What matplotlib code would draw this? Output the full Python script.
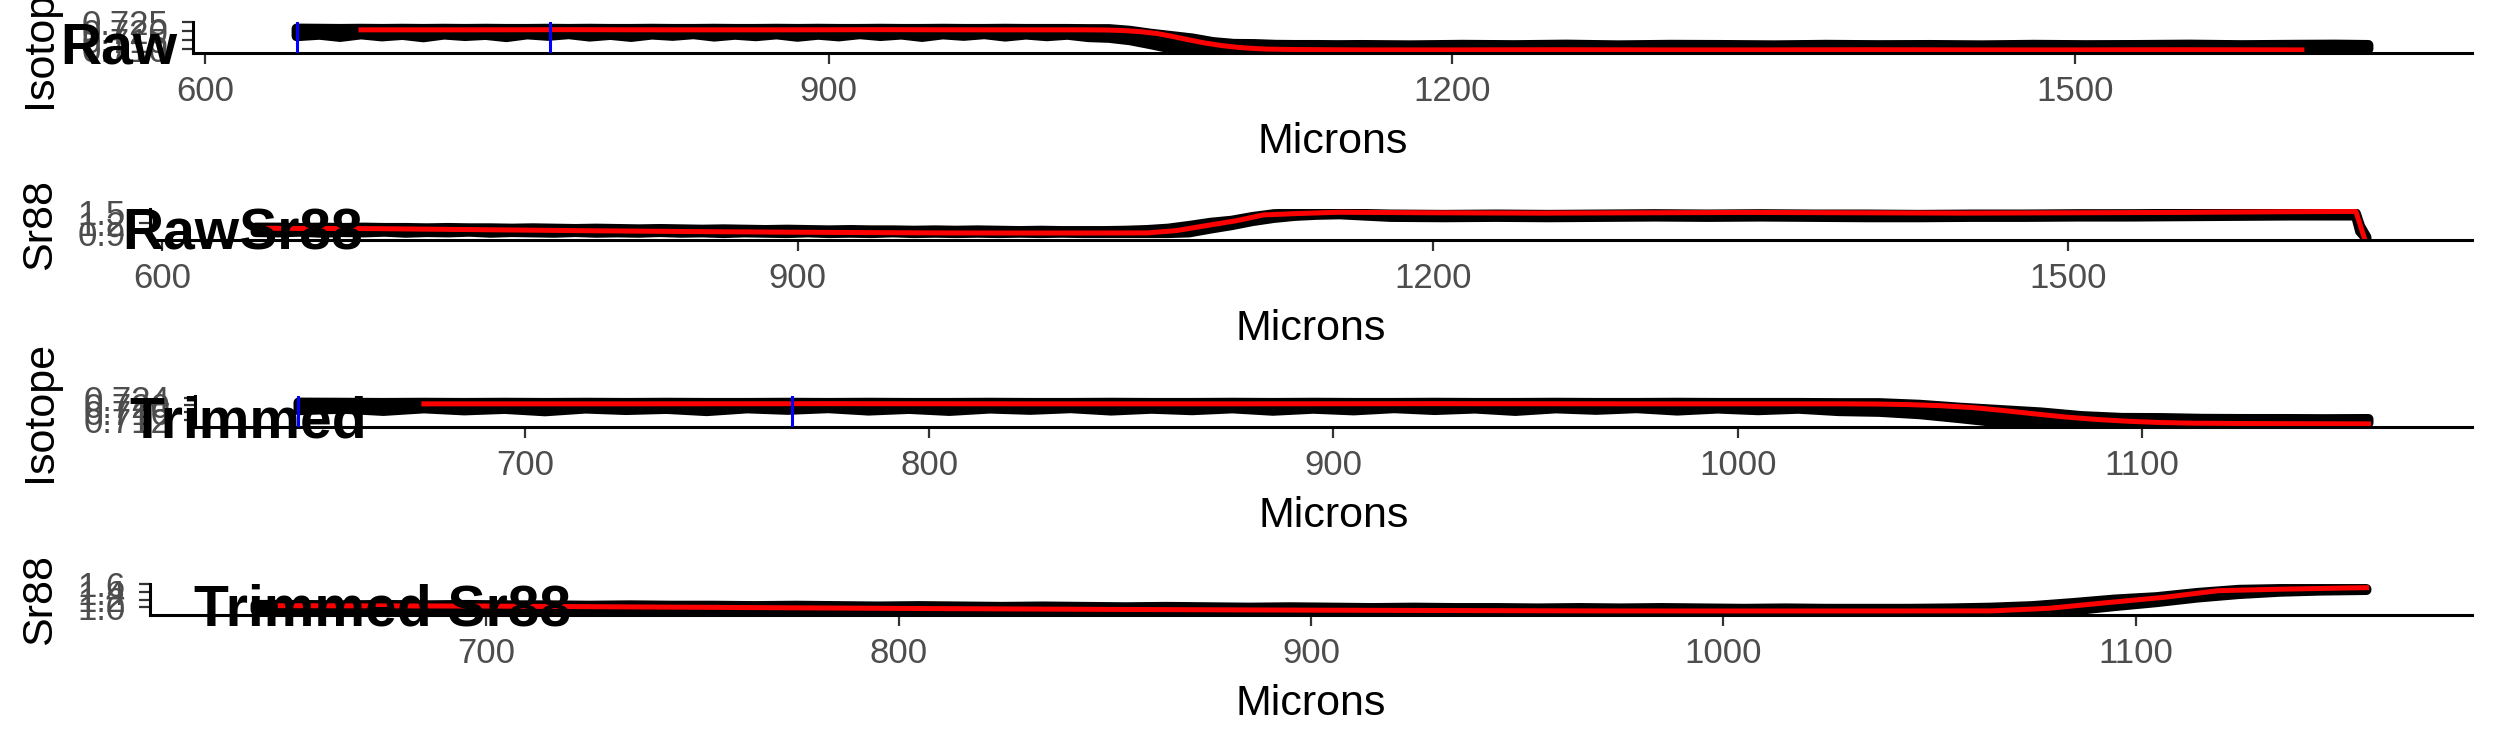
import numpy as np
import matplotlib
matplotlib.use("Agg")
import matplotlib.pyplot as plt
from matplotlib.ticker import FixedLocator, FixedFormatter

plt.rcParams['font.family'] = ['Liberation Sans', 'DejaVu Sans']

W, H = 2495, 749

# isotope ratio along the ablation line: upper / lower edge of the point cloud
iso_x = [644, 655, 665, 675, 685, 695, 705, 715, 725, 735,
         745, 755, 765, 775, 785, 795, 805, 815, 825, 835,
         845, 855, 865, 875, 885, 895, 905, 915, 925, 935,
         945, 955, 965, 975, 985, 995, 1005, 1015, 1025,
         1035, 1045, 1055, 1065, 1075, 1085, 1095, 1105, 1115, 1125, 1135, 1145, 1156,
         1180, 1205, 1230, 1255, 1280, 1305, 1330, 1355, 1380, 1405,
         1430, 1455, 1480, 1505, 1530, 1555, 1580, 1605, 1625, 1641]
iso_hi = [0.7214, 0.7213, 0.7212, 0.7213, 0.7212, 0.7213, 0.7212, 0.7213, 0.7212, 0.7213,
          0.7212, 0.7212, 0.7213, 0.7212, 0.7213, 0.7212, 0.7212, 0.7213, 0.7212, 0.7212,
          0.7213, 0.7212, 0.7212, 0.7213, 0.7212, 0.7213, 0.7212, 0.7212, 0.7213, 0.7212,
          0.7212, 0.7213, 0.7212, 0.7212, 0.7213, 0.7212, 0.7212, 0.7212, 0.7211,
          0.7211, 0.7202, 0.7186, 0.7173, 0.7160, 0.7140, 0.7130, 0.7129, 0.7125, 0.7124, 0.7124, 0.7123, 0.7124,
          0.7122, 0.7125, 0.7123, 0.7126, 0.7122, 0.7125, 0.7124, 0.7122, 0.7125, 0.7123,
          0.7124, 0.7122, 0.7125, 0.7123, 0.7124, 0.7126, 0.7123, 0.7125, 0.7126, 0.7124]
iso_lo = [0.7172, 0.7180, 0.7168, 0.7182, 0.7171, 0.7179, 0.7166, 0.7181, 0.7173, 0.7179,
          0.7167, 0.7182, 0.7174, 0.7183, 0.7170, 0.7179, 0.7168, 0.7181, 0.7174, 0.7183,
          0.7170, 0.7180, 0.7172, 0.7182, 0.7169, 0.7180, 0.7171, 0.7183, 0.7173, 0.7181,
          0.7168, 0.7182, 0.7174, 0.7183, 0.7170, 0.7181, 0.7172, 0.7180, 0.7167,
          0.7163, 0.7150, 0.7128, 0.7104, 0.7102, 0.7102, 0.7102, 0.7102, 0.7102, 0.7102, 0.7102, 0.7102, 0.7102,
          0.7102, 0.7102, 0.7102, 0.7102, 0.7102, 0.7102, 0.7102, 0.7102, 0.7102, 0.7102,
          0.7102, 0.7102, 0.7102, 0.7102, 0.7102, 0.7102, 0.7102, 0.7102, 0.7102, 0.7102]

# smoothed isotope ratio (red)
iso_red_x = [675, 725, 775, 825, 875, 925, 975, 1025, 1034, 1042, 1050, 1058, 1065, 1073,
             1081, 1089, 1097, 1104, 1112, 1125, 1140, 1156, 1200, 1250, 1300, 1350,
             1400, 1450, 1500, 1550, 1609]
iso_red_y = [0.7207, 0.7207, 0.7208, 0.7207, 0.7207, 0.7208, 0.7207, 0.7207, 0.7206, 0.7203,
             0.7197, 0.7187, 0.7172, 0.7153, 0.7135, 0.7121, 0.7111, 0.7105, 0.7101, 0.7099,
             0.7098, 0.7097, 0.7097, 0.7098, 0.7097, 0.7097, 0.7098, 0.7097, 0.7097, 0.7098, 0.7097]

# Sr88 signal, same layout
sr_x = [644, 655, 665, 675, 685, 695, 705, 715, 725, 735,
        745, 755, 765, 775, 785, 795, 805, 815, 825, 835,
        845, 855, 865, 875, 885, 895, 905, 915, 925, 935,
        945, 955, 965, 975, 985, 995, 1005, 1015, 1025,
        1035, 1045, 1055, 1065, 1075, 1085, 1095, 1105, 1115, 1125, 1135, 1145, 1156,
        1180, 1205, 1230, 1255, 1280, 1305, 1330, 1355, 1380, 1405,
        1430, 1455, 1480, 1505, 1530, 1555, 1580, 1605, 1625, 1636, 1638, 1641]
sr_hi = [1.06, 1.06, 1.05, 1.06, 1.05, 1.06, 1.05, 1.05, 1.04, 1.05,
         1.04, 1.04, 1.03, 1.04, 1.03, 1.02, 1.03, 1.02, 1.01, 1.02,
         1.01, 1.00, 1.01, 1.00, 0.99, 1.00, 0.99, 0.98, 0.99, 0.98,
         0.98, 0.97, 0.98, 0.97, 0.98, 0.97, 0.96, 0.97, 0.96,
         0.96, 0.96, 0.97, 0.99, 1.03, 1.11, 1.20, 1.26, 1.37, 1.45, 1.47, 1.47, 1.47,
         1.44, 1.43, 1.44, 1.43, 1.44, 1.45, 1.44, 1.45, 1.44, 1.44,
         1.43, 1.44, 1.44, 1.45, 1.45, 1.46, 1.47, 1.47, 1.47, 1.47, 1.10, 0.78]
sr_lo = [0.93, 0.92, 0.94, 0.91, 0.93, 0.92, 0.94, 0.91, 0.93, 0.92,
         0.94, 0.91, 0.93, 0.92, 0.91, 0.93, 0.91, 0.92, 0.91, 0.93,
         0.91, 0.92, 0.90, 0.92, 0.91, 0.90, 0.92, 0.90, 0.91, 0.90,
         0.92, 0.90, 0.91, 0.90, 0.91, 0.90, 0.91, 0.90, 0.91,
         0.90, 0.90, 0.90, 0.90, 0.90, 0.92, 1.03, 1.13, 1.25, 1.34, 1.40, 1.43, 1.445,
         1.37, 1.36, 1.37, 1.36, 1.37, 1.38, 1.37, 1.38, 1.37, 1.36,
         1.36, 1.37, 1.37, 1.38, 1.38, 1.39, 1.40, 1.41, 1.41, 1.41, 0.95, 0.74]

sr_red_x = [650, 700, 750, 800, 850, 900, 969, 1000, 1038, 1065, 1079, 1093, 1107, 1120,
            1134, 1150, 1156, 1200, 1250, 1300, 1350, 1400, 1450, 1500, 1550, 1600, 1636, 1640]
sr_red_y = [1.04, 1.03, 1.00, 0.97, 0.945, 0.925, 0.905, 0.903, 0.903, 0.906, 0.973, 1.118,
            1.257, 1.427, 1.463, 1.495, 1.505, 1.49, 1.48, 1.49, 1.50, 1.49, 1.48, 1.49,
            1.50, 1.52, 1.53, 0.76]

blue_marks = [644, 766]   # selected window
trim_end = 1156

raw_x_ticks = [600, 900, 1200, 1500]
trim_x_ticks = [700, 800, 900, 1000, 1100]
raw_iso_ticks = [0.710, 0.715, 0.720, 0.725]
trim_iso_ticks = [0.712, 0.716, 0.720, 0.724]
raw_sr_ticks = [0.9, 1.2, 1.5]
trim_sr_ticks = [1.0, 1.2, 1.4, 1.6]


fig = plt.figure(figsize=(W / 100, H / 100), dpi=100)


def panel(box, x, hi, lo, rx, ry, ylim, yticks, yfmt, xticks,
          ylabel, title, title_pos, blues=(), cut=None):
    left, right, top, bottom = box
    ax = fig.add_axes([left / W, 1 - bottom / H, (right - left) / W, (bottom - top) / H])
    x, hi, lo = np.asarray(x), np.asarray(hi), np.asarray(lo)
    rx, ry = np.asarray(rx), np.asarray(ry)
    if cut is not None:
        keep = x <= cut
        x, hi, lo = x[keep], hi[keep], lo[keep]
        keep = rx <= cut
        rx, ry = rx[keep], ry[keep]

    # point cloud drawn as a filled band with round edges (big points)
    ax.fill(np.r_[x, x[::-1]], np.r_[hi, lo[::-1]], fc='black', ec='black',
            lw=7.2, joinstyle='round', zorder=1)
    ax.plot(rx, ry, color='red', lw=3.6, zorder=2)
    for b in blues:
        ax.axvline(b, color='blue', lw=2.2, zorder=3)

    span = x.max() - x.min()
    ax.set_xlim(x.min() - 0.05 * span, x.max() + 0.05 * span)
    ax.set_ylim(*ylim)

    ax.xaxis.set_major_locator(FixedLocator(xticks))
    ax.yaxis.set_major_locator(FixedLocator(yticks))
    ax.yaxis.set_major_formatter(FixedFormatter([yfmt % t for t in yticks]))

    for s in ['top', 'right']:
        ax.spines[s].set_visible(False)
    for s in ['left', 'bottom']:
        ax.spines[s].set_linewidth(2.2)
        ax.spines[s].set_color('black')
    ax.tick_params(length=8, width=1.6, color='#333333', labelsize=25,
                   labelcolor='#4D4D4D')
    ax.tick_params(axis='x', pad=8)
    ax.tick_params(axis='y', pad=9.5)
    ax.set_xlabel('Microns', fontsize=31, labelpad=10)

    fig.text(40 / W, 1 - (top + bottom) / 2 / H, ylabel, rotation=90,
             ha='center', va='center', fontsize=31)
    fig.text((title_pos[0] - 3) / W, 1 - title_pos[1] / H, title, ha='left',
             va='baseline', fontsize=41, fontweight='bold')
    return ax


panel((193, 2472, 22, 53), iso_x, iso_hi, iso_lo, iso_red_x, iso_red_y,
      (0.7080, 0.7250), raw_iso_ticks, '%.3f', raw_x_ticks,
      'Isotope', 'Raw', (63, 63), blues=blue_marks)
panel((150, 2472, 209, 240), sr_x, sr_hi, sr_lo, sr_red_x, sr_red_y,
      (0.70, 1.60), raw_sr_ticks, '%.1f', raw_x_ticks,
      'Sr88', 'RawSr88', (125, 250))
panel((195, 2472, 396, 427), iso_x, iso_hi, iso_lo, iso_red_x, iso_red_y,
      (0.7080, 0.7250), trim_iso_ticks, '%.3f', trim_x_ticks,
      'Isotope', 'Trimmed', (132, 438), blues=blue_marks, cut=trim_end)
panel((150, 2472, 584, 615), sr_x, sr_hi, sr_lo, sr_red_x, sr_red_y,
      (0.80, 1.60), trim_sr_ticks, '%.1f', trim_x_ticks,
      'Sr88', 'Trimmed Sr88', (197, 625), cut=trim_end)

fig.savefig('out.png', dpi=100)
